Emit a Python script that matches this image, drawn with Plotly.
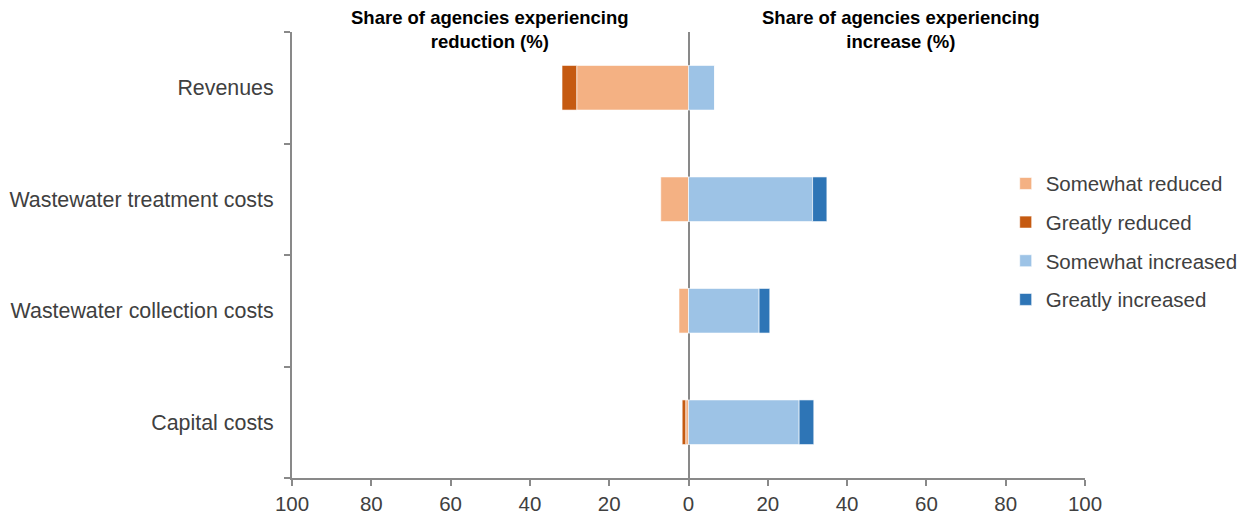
import plotly.graph_objects as go

# Survey categories, top to bottom
categories = ["Revenues", "Wastewater treatment costs",
              "Wastewater collection costs", "Capital costs"]

# Share of agencies (%) by response; reductions are drawn to the left of zero
somewhat_reduced = [28.2, 7.0, 2.4, 0.7]
greatly_reduced = [3.7, 0.0, 0.0, 0.9]
somewhat_increased = [6.6, 31.3, 17.8, 27.9]
greatly_increased = [0.0, 3.6, 2.7, 3.7]

tick_vals = [-100, -80, -60, -40, -20, 0, 20, 40, 60, 80, 100]
tick_text = [str(abs(v)) for v in tick_vals]

series = [
    ("Somewhat reduced", [-v for v in somewhat_reduced], "#F4B183"),
    ("Greatly reduced", [-v for v in greatly_reduced], "#C55A11"),
    ("Somewhat increased", somewhat_increased, "#9DC3E6"),
    ("Greatly increased", greatly_increased, "#2E75B6"),
]

FONT = "Liberation Sans, Arial, sans-serif"
TEXT_COLOR = "#404040"
AXIS_COLOR = "#898989"

fig = go.Figure()
for name, vals, color in series:
    fig.add_trace(go.Bar(
        y=categories, x=vals, name=name, orientation="h",
        marker=dict(color=color, line=dict(color="rgba(255,255,255,0.6)", width=1)),
        legendgroup=name,
    ))

fig.update_layout(
    barmode="relative",
    bargap=0.6,
    width=1251, height=516,
    margin=dict(l=292, r=166, t=32, b=38, autoexpand=False),
    plot_bgcolor="white", paper_bgcolor="white",
    font=dict(family=FONT, size=21, color=TEXT_COLOR),
    showlegend=True,
    legend=dict(x=0.900, y=0.530, xanchor="left", yanchor="middle",
                traceorder="grouped", tracegroupgap=9,
                font=dict(size=20.5, color=TEXT_COLOR), bgcolor="rgba(0,0,0,0)"),
    xaxis=dict(range=[-100, 100], tickvals=tick_vals, ticktext=tick_text,
               showgrid=False, zeroline=True, zerolinecolor=AXIS_COLOR, zerolinewidth=2,
               showline=True, linecolor=AXIS_COLOR, linewidth=2,
               ticks="outside", ticklen=6, tickcolor=AXIS_COLOR, tickwidth=2,
               tickfont=dict(size=20.5, color=TEXT_COLOR), fixedrange=True,
               automargin=False),
    yaxis=dict(categoryorder="array", categoryarray=categories[::-1],
               range=[-0.5, 3.5], showgrid=False, zeroline=False,
               showline=True, linecolor=AXIS_COLOR, linewidth=2,
               ticks="outside", tickson="boundaries", ticklen=6,
               tickcolor=AXIS_COLOR, tickwidth=2, ticklabelstandoff=12,
               tickfont=dict(size=21.4, color=TEXT_COLOR), fixedrange=True,
               automargin=False),
)

title_font = dict(family=FONT, size=18.5, color="black")
fig.add_annotation(x=-50, xref="x", y=1.005, yref="paper", yanchor="middle",
                   text="<b>Share of agencies experiencing<br>reduction (%)</b>",
                   showarrow=False, font=title_font, align="center")
fig.add_annotation(x=53.7, xref="x", y=1.005, yref="paper", yanchor="middle",
                   text="<b>Share of agencies experiencing<br>increase (%)</b>",
                   showarrow=False, font=title_font, align="center")

fig.write_html("out.html")
